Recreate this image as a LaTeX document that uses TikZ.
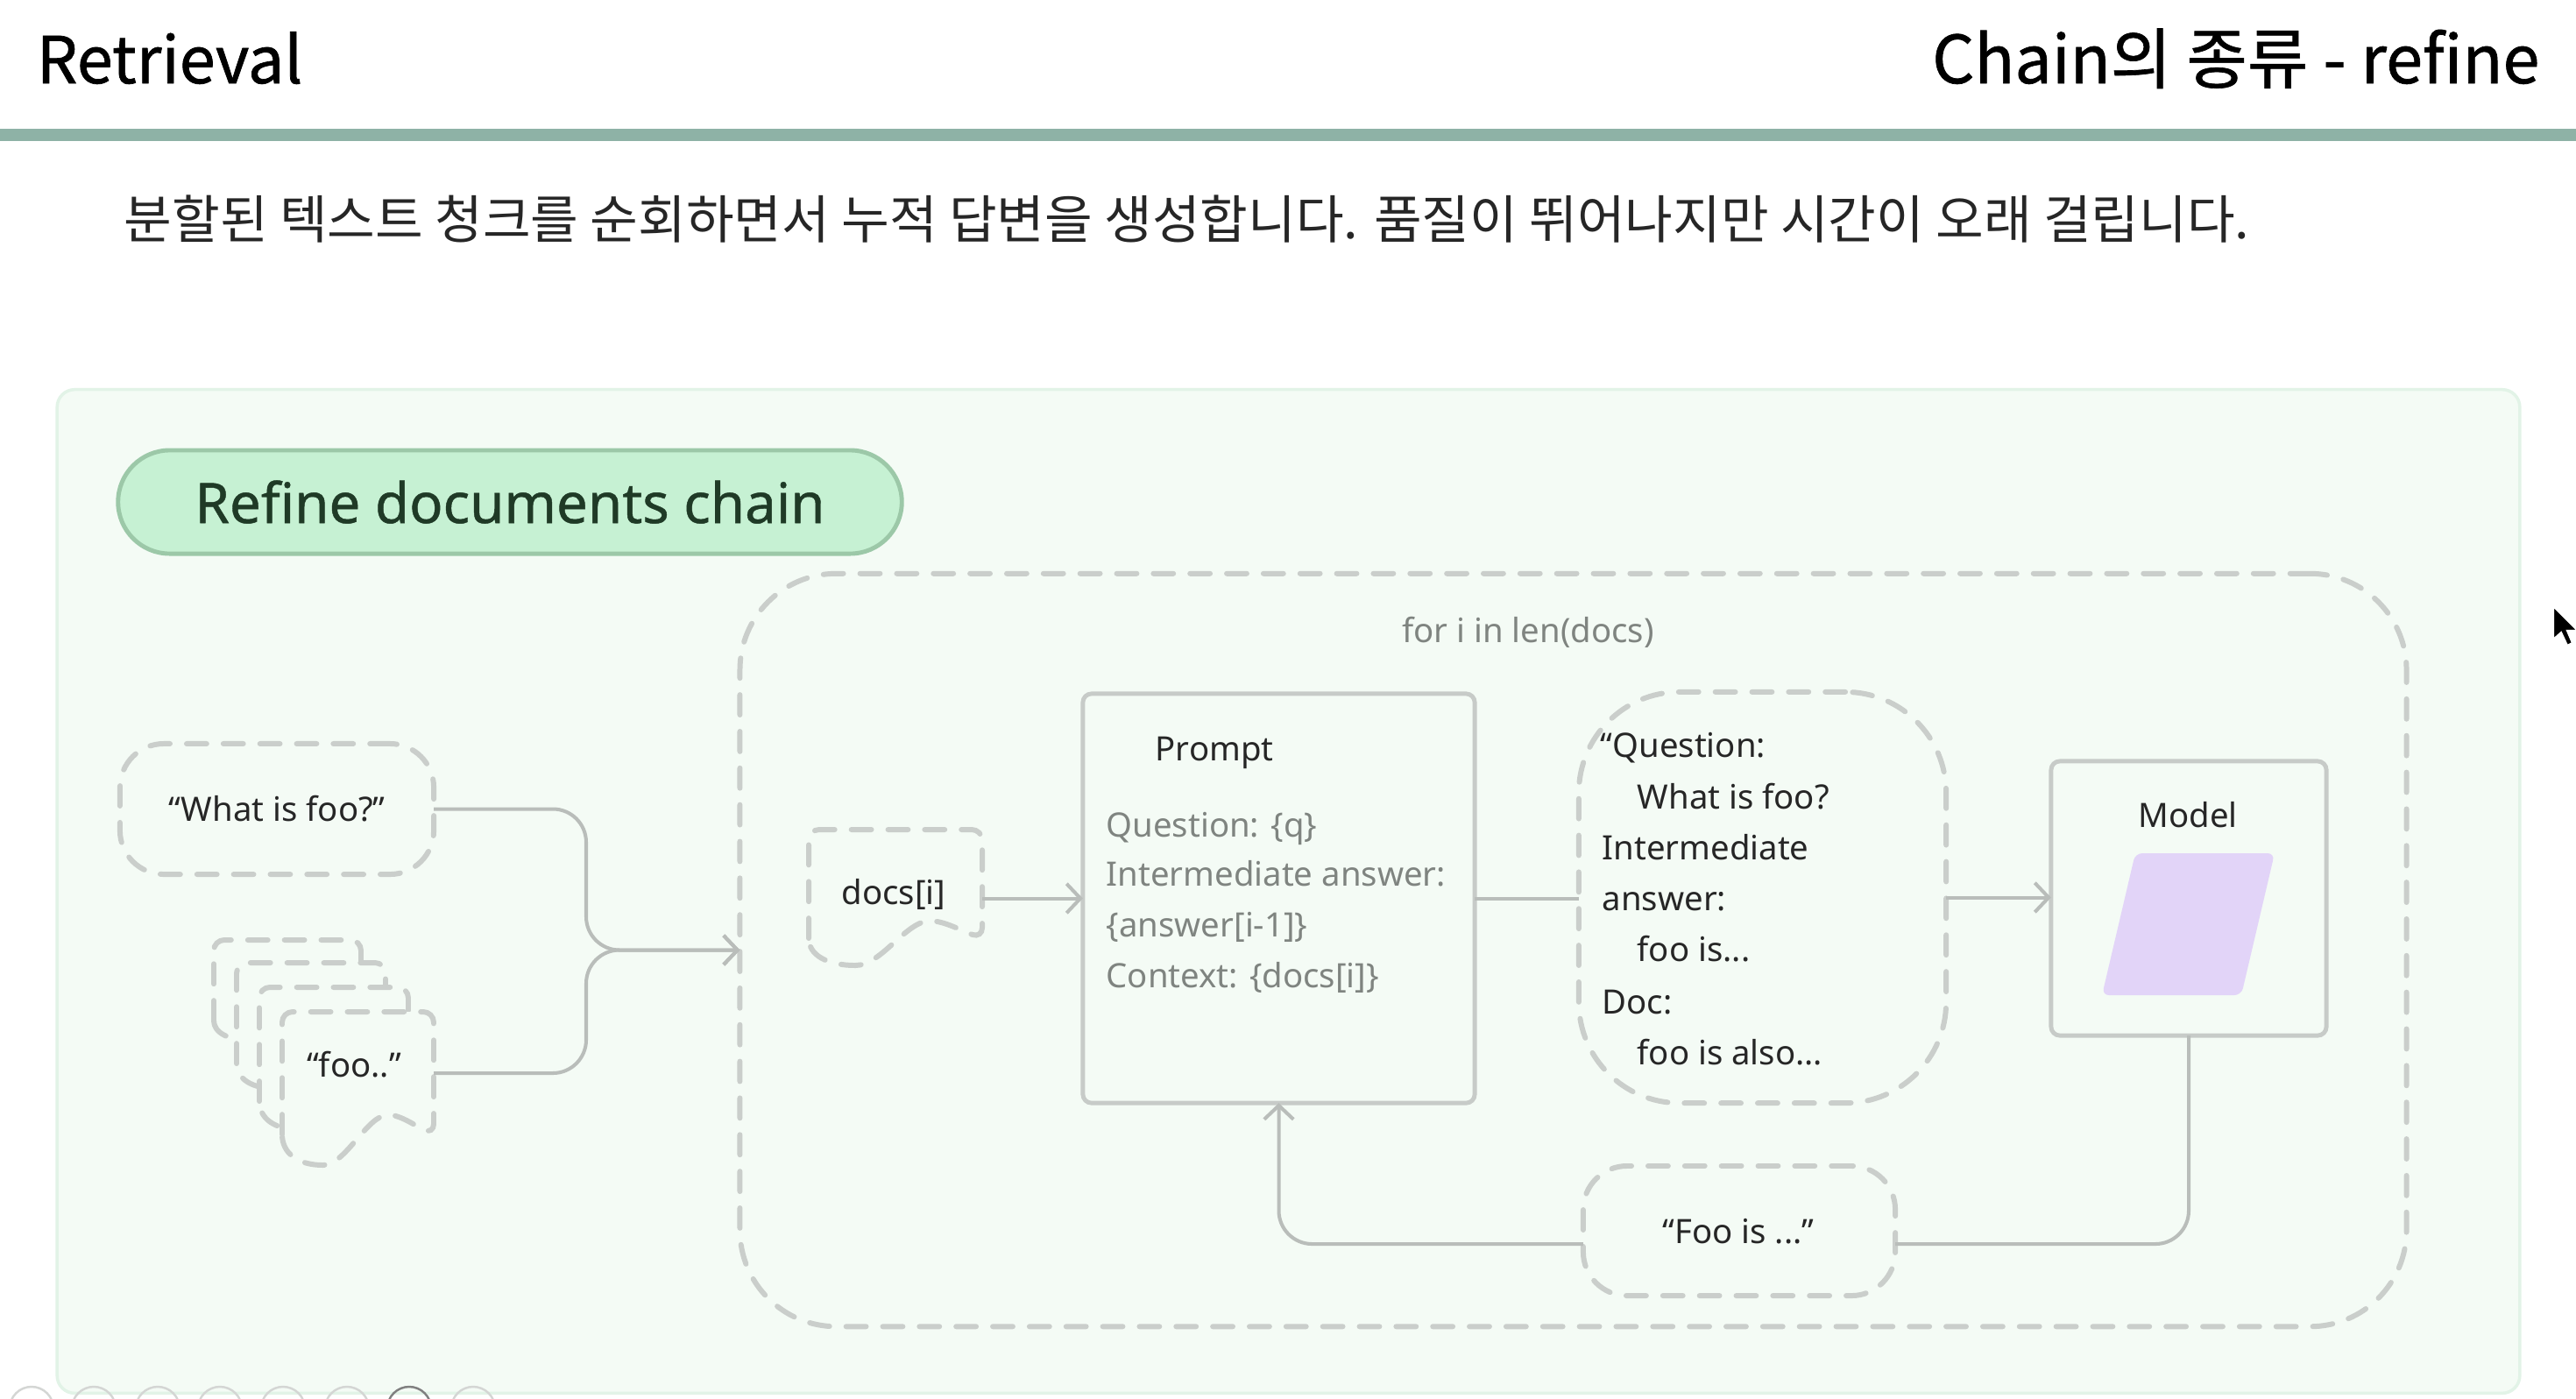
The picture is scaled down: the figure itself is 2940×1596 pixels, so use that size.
\documentclass[tikz,border=0pt]{standalone}
\usepackage{fontspec}
\setmainfont{Noto Sans}
\newfontfamily\kr{Noto Sans CJK KR}
\newfontfamily\krmed[FakeBold=0.9]{Noto Sans CJK KR}
\newfontfamily\lmed[FakeBold=0.7]{Noto Sans}
\usetikzlibrary{arrows.meta,calc}
\definecolor{txtdark}{HTML}{262626}
\definecolor{txtgrey}{HTML}{7F8480}
\definecolor{rulecol}{HTML}{8EB2A6}
\definecolor{panelfill}{HTML}{F4FBF5}
\definecolor{panelline}{HTML}{E2F3E7}
\definecolor{pillfill}{HTML}{C6F1D3}
\definecolor{pillline}{HTML}{9CC8A8}
\definecolor{pilltext}{HTML}{1F3A26}
\definecolor{dashcol}{HTML}{CACECB}
\definecolor{conncol}{HTML}{B9BDBA}
\definecolor{boxline}{HTML}{C7CBC8}
\definecolor{lavender}{HTML}{E2D4F8}
\definecolor{navcol}{HTML}{D4D6D4}
\newcommand{\dfont}{\fontsize{10.9pt}{13pt}\selectfont}
\newcommand{\mydoc}[4]{%
\draw[docstyle] (#1,#2+#4) [rounded corners=0.12cm] -- (#1,#2) -- (#1+#3,#2) -- (#1+#3,#2+#4) [sharp corners]
 .. controls (#1+0.88*#3,#2+0.93*#4) and (#1+0.78*#3,#2+0.84*#4) .. (#1+0.70*#3,#2+0.84*#4)
 .. controls (#1+0.56*#3,#2+0.84*#4) and (#1+0.42*#3,#2+1.25*#4) .. (#1+0.27*#3,#2+1.25*#4)
 .. controls (#1+0.10*#3,#2+1.25*#4) and (#1,#2+1.15*#4) .. cycle;}
\begin{document}
\begin{tikzpicture}[x=0.01cm,y=-0.01cm,
  dashline/.style={draw=dashcol, line width=1.7pt, line cap=round, dash pattern=on 6.5pt off 5.4pt},
  docstyle/.style={dashline, fill=panelfill},
  dashbox/.style={dashline, fill=panelfill, inner sep=0pt, outer sep=0pt},
  solidbox/.style={draw=boxline, line width=1.4pt, fill=panelfill, rounded corners=0.1cm, inner sep=0pt, outer sep=0pt},
  conn/.style={draw=conncol, line width=1.15pt, rounded corners=0.38cm},
  arr/.style={-{Straight Barb[length=4.5pt,width=9.5pt]}},
  dtxt/.style={font=\dfont, text=txtdark, inner sep=0pt},
  gtxt/.style={font=\dfont, text=txtgrey, inner sep=0pt}
]
\useasboundingbox (0,0) rectangle (2940,1596);
\clip (0,0) rectangle (2940,1596);
\fill[white] (0,0) rectangle (2940,1596);

% header
\node[anchor=base west, inner sep=0pt, text=black, font=\krmed\fontsize{21pt}{25pt}\selectfont] (hl) at (41,95) {Retrieval};
\node[anchor=base east, inner sep=0pt, text=black, font=\krmed\fontsize{21.5pt}{25pt}\selectfont] (hr) at (2899,95) {Chain의 종류 - refine};
\fill[rulecol] (0,147) rectangle (2940,161);
\node[anchor=base west, inner sep=0pt, text=txtdark, font=\kr\fontsize{16.9pt}{20pt}\selectfont] (sub) at (141,272) {분할된 텍스트 청크를 순회하면서 누적 답변을 생성합니다. 품질이 뛰어나지만 시간이 오래 걸립니다.};

% panel
\node[draw=panelline, fill=panelfill, line width=1pt, rounded corners=0.2cm, minimum width=28.09cm, minimum height=11.45cm, inner sep=0pt] (panel) at (1470.5,1017.5) {};

% nav circles
\foreach \cx in {36,107,180,251,323,396,540}
  \draw[navcol, line width=0.7pt] (\cx,1608) circle[radius=0.25cm];
\draw[black!50, line width=0.7pt] (467,1608) circle[radius=0.25cm];

% title pill
\node[draw=pillline, fill=pillfill, line width=1.4pt, rounded corners=0.59cm, minimum width=8.94cm, minimum height=1.18cm, inner sep=0pt, text=pilltext, font=\lmed\fontsize{18.1pt}{21pt}\selectfont] (pill) at (582,573) {Refine documents chain};

% loop box
\node[dashline, rounded corners=1.1cm, minimum width=19.01cm, minimum height=8.59cm, inner sep=0pt, outer sep=0pt] (loop) at (1795.5,1084.5) {};
\node[gtxt, anchor=base] (forlbl) at (1744,733) {for i in len(docs)};

% question node
\node[dashbox, rounded corners=0.5cm, minimum width=3.58cm, minimum height=1.49cm] (q) at (316,923.5) {};
\node[dtxt, anchor=base] (qt) at (316,937) {“What is foo?”};

% stacked docs
\mydoc{244}{1073}{168}{92}
\mydoc{270}{1099}{170}{115}
\mydoc{296}{1127}{170}{130}
\mydoc{322}{1155}{173}{140}
\node[dtxt, anchor=base] (foo) at (404,1229) {“foo..”};
\coordinate (fooE) at (495,1225);

% merge connectors
\coordinate (mg) at (669,1084.5);
\draw[conn, arr] (q.east) -| (mg) -- (loop.west);
\draw[conn, arr] (fooE) -| (mg) -- (loop.west);

% docs[i]
\mydoc{923}{947}{198}{124}
\node[dtxt, anchor=base] (di) at (1020,1032) {docs[i]};
\coordinate (diE) at (1121,1025.5);

% prompt
\node[solidbox, minimum width=4.47cm, minimum height=4.67cm] (prompt) at (1459.5,1025.5) {};
\node[dtxt, anchor=base west] (pt) at (1318,868) {Prompt};
\node[gtxt, anchor=base west] (p1) at (1262,955) {Question: \{q\}};
\node[gtxt, anchor=base west] (p2) at (1262,1011) {Intermediate answer:};
\node[gtxt, anchor=base west] (p3) at (1262,1069) {\{answer[i-1]\}};
\node[gtxt, anchor=base west] (p4) at (1262,1127) {Context: \{docs[i]\}};

\draw[conn, arr] (diE) -- (prompt.west);

% question bubble
\node[dashbox, rounded corners=1.15cm, minimum width=4.19cm, minimum height=4.69cm] (qb) at (2011.5,1024.5) {};
\node[dtxt, anchor=base west] (b1) at (1826,864) {“Question:};
\node[dtxt, anchor=base west] (b2) at (1868,923) {What is foo?};
\node[dtxt, anchor=base west] (b3) at (1828,981) {Intermediate};
\node[dtxt, anchor=base west] (b4) at (1828,1039) {answer:};
\node[dtxt, anchor=base west] (b5) at (1868,1097) {foo is...};
\node[dtxt, anchor=base west] (b6) at (1828,1157) {Doc:};
\node[dtxt, anchor=base west] (b7) at (1868,1215) {foo is also...};

\draw[conn] (prompt.east) -- (prompt.east -| qb.west);

% model
\node[solidbox, minimum width=3.14cm, minimum height=3.13cm] (model) at (2498,1025.5) {};
\node[dtxt, anchor=base] (mt) at (2497,944) {Model};
\fill[lavender, rounded corners=0.08cm] (2437,974) -- (2596,974) -- (2558,1136) -- (2399,1136) -- cycle;

\draw[conn, arr] (qb.east) -- (qb.east -| model.west);

% output bubble
\node[dashbox, rounded corners=0.5cm, minimum width=3.56cm, minimum height=1.48cm] (out) at (1985,1405) {};
\node[dtxt, anchor=base] (ot) at (1984,1419) {“Foo is ...”};

\draw[conn] (model.south) |- ([yshift=-0.15cm]out.east);
\draw[conn, arr] ([yshift=-0.15cm]out.west) -| (prompt.south);

% cursor
\filldraw[fill=black, draw=white, line width=0.6pt] (2914,692) -- (2914,730) -- (2923,722) -- (2930,737) -- (2936,734) -- (2930,720) -- (2942,720) -- cycle;
\end{tikzpicture}
\end{document}
